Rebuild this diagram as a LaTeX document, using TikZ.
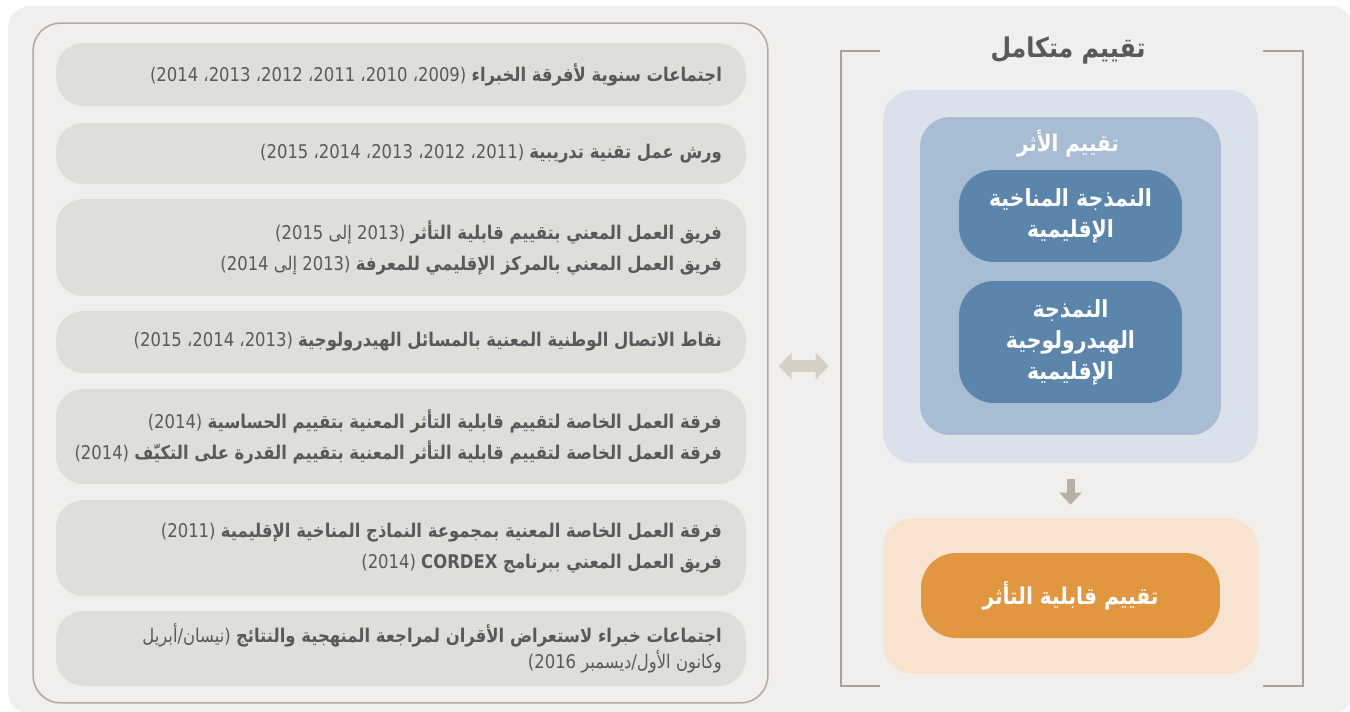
\documentclass[tikz,border=0pt]{standalone}
\usepackage{fontspec}
\setmainfont{DejaVu Sans}
\newfontfamily\arabicfont[Script=Arabic, FakeStretch=0.87]{DejaVu Sans}
\TeXXeTstate=1
\usetikzlibrary{positioning,arrows.meta}

\definecolor{bggray}{HTML}{F0EFED}
\definecolor{panelline}{HTML}{B3AA9C}
\definecolor{itemgray}{HTML}{DFDFD9}
\definecolor{textgray}{HTML}{58595B}
\definecolor{arrowgray}{HTML}{D6D0C4}
\definecolor{downgray}{HTML}{B8B1A3}
\definecolor{bracketgray}{HTML}{A9A192}
\definecolor{bluelight}{HTML}{DAE1EB}
\definecolor{bluemid}{HTML}{A8BCD3}
\definecolor{bluedark}{HTML}{5B85AA}
\definecolor{orangelight}{HTML}{F7E3D0}
\definecolor{orangedark}{HTML}{E0973F}

\tikzset{
  itembox/.style={fill=itemgray, rounded corners=0.55cm, minimum width=13.8cm},
  itemtext/.style={anchor=east, align=right, text=textgray, inner sep=0,
    font=\arabicfont\fontsize{10.75}{17.6}\selectfont},
  modelbox/.style={fill=bluedark, rounded corners=0.7cm, minimum width=4.46cm,
    text=white, align=center, font=\arabicfont\bfseries\fontsize{13.4}{17.6}\selectfont},
  bgbox/.style={rounded corners=0.6cm, minimum width=7.5cm},
  bracket/.style={draw=bracketgray, line width=1.1pt},
}

\begin{document}
\begin{tikzpicture}[x=0.02cm, y=-0.02cm]
    \useasboundingbox (0,0) rectangle (1350,711);
    \fill[white] (0,0) rectangle (1350,711);
    \fill[bggray, rounded corners=0.45cm] (8,6) rectangle (1353,714);

    % activities
    \node[draw=panelline, line width=0.9pt, rounded corners=0.55cm, minimum width=14.7cm, minimum height=13.6cm] (panel) at (400.5,363) {};

    \node[itembox, minimum height=1.26cm] (meet) at (401,74.5) {};
    \node[itemtext] (meettext) at ([xshift=-0.48cm]meet.east) {\beginR\textbf{اجتماعات سنوية لأفرقة الخبراء} (2009، 2010، 2011، 2012، 2013، 2014)\endR};

    \node[itembox, minimum height=1.22cm] (work) at (401,153.5) {};
    \node[itemtext] (worktext) at ([xshift=-0.48cm]work.east) {\beginR\textbf{ورش عمل تقنية تدريبية} (2011، 2012، 2013، 2014، 2015)\endR};

    \node[itembox, minimum height=1.94cm] (team) at (401,247.5) {};
    \node[itemtext] (teamtext) at ([xshift=-0.48cm]team.east) {\beginR\textbf{فريق العمل المعني بتقييم قابلية التأثر} (2013 إلى 2015)\endR\\
        \beginR\textbf{فريق العمل المعني بالمركز الإقليمي للمعرفة} (2013 إلى 2014)\endR};

    \node[itembox, minimum height=1.24cm] (focal) at (401,342) {};
    \node[itemtext] (focaltext) at ([xshift=-0.48cm]focal.east) {\beginR\textbf{نقاط الاتصال الوطنية المعنية بالمسائل الهيدرولوجية} (2013، 2014، 2015)\endR};

    \node[itembox, minimum height=1.9cm] (task) at (401,436.5) {};
    \node[itemtext] (tasktext) at ([xshift=-0.48cm]task.east) {\beginR\textbf{فرقة العمل الخاصة لتقييم قابلية التأثر المعنية بتقييم الحساسية} (2014)\endR\\
        \beginR\textbf{فرقة العمل الخاصة لتقييم قابلية التأثر المعنية بتقييم القدرة على التكيّف} (2014)\endR};

    \node[itembox, minimum height=1.92cm] (ens) at (401,548) {};
    \node[itemtext] (enstext) at ([xshift=-0.48cm]ens.east) {\beginR\textbf{فرقة العمل الخاصة المعنية بمجموعة النماذج المناخية الإقليمية} (2011)\endR\\
        \beginR\textbf{فريق العمل المعني ببرنامج CORDEX} (2014)\endR};

    \node[itembox, minimum height=1.5cm] (peer) at (401,648.5) {};
    \node[itemtext, font=\arabicfont\fontsize{10.75}{15}\selectfont] (peertext) at ([xshift=-0.48cm]peer.east) {\beginR\textbf{اجتماعات خبراء لاستعراض الأقران لمراجعة المنهجية والنتائج} (نيسان/أبريل\endR\\
        \beginR وكانون الأول/ديسمبر 2016)\endR};

    % integrated assessment
    \node[minimum width=9.24cm, minimum height=12.7cm, inner sep=0] (assess) at (1072,368.5) {};
    \draw[bracket] ([xshift=0.78cm]assess.north west) -- (assess.north west) -- (assess.south west) -- ([xshift=0.78cm]assess.south west);
    \draw[bracket] ([xshift=-0.8cm]assess.north east) -- (assess.north east) -- (assess.south east) -- ([xshift=-0.8cm]assess.south east);
    \node[text=textgray, font=\arabicfont\bfseries\fontsize{15.5}{18}\selectfont] (title) at (1068,50) {\beginR تقييم متكامل\endR};

    \node[bgbox, fill=bluelight, minimum height=7.46cm] (impactbg) at (1070.5,276.5) {};
    \node[fill=bluemid, rounded corners=0.6cm, minimum width=6.02cm, minimum height=6.36cm] (impact) at (1070.5,276) {};
    \node[text=white, font=\arabicfont\bfseries\fontsize{13}{16}\selectfont] (impacttitle) at (1068,143) {\beginR تقييم الأثر\endR};
    \node[modelbox, minimum height=1.84cm] (climmod) at (1070.5,216) {\beginR النمذجة المناخية\endR\\ \beginR الإقليمية\endR};
    \node[modelbox, minimum height=2.44cm] (hydmod) at (1070.5,342) {\beginR النمذجة\endR\\ \beginR الهيدرولوجية\endR\\ \beginR الإقليمية\endR};

    \node[bgbox, fill=orangelight, minimum height=3.12cm] (vulnbg) at (1070.5,596) {};
    \node[fill=orangedark, rounded corners=0.7cm, minimum width=5.98cm, minimum height=1.7cm, text=white, font=\arabicfont\bfseries\fontsize{13.2}{17}\selectfont] (vuln) at (1070.5,595.5) {\beginR تقييم قابلية التأثر\endR};

    % arrows
    \draw[downgray, line width=0.16cm, -{Triangle[width=0.44cm, length=0.24cm]}, shorten <=0.32cm, shorten >=0.26cm] (impactbg.south) -- (vulnbg.north);
    \draw[arrowgray, line width=0.24cm, {Triangle[width=0.52cm, length=0.26cm]}-{Triangle[width=0.52cm, length=0.26cm]}, shorten <=0.2cm, shorten >=0.24cm] ([yshift=-0.06cm]panel.east) -- ([yshift=-0.06cm]panel.east -| assess.west);
\end{tikzpicture}
\end{document}
